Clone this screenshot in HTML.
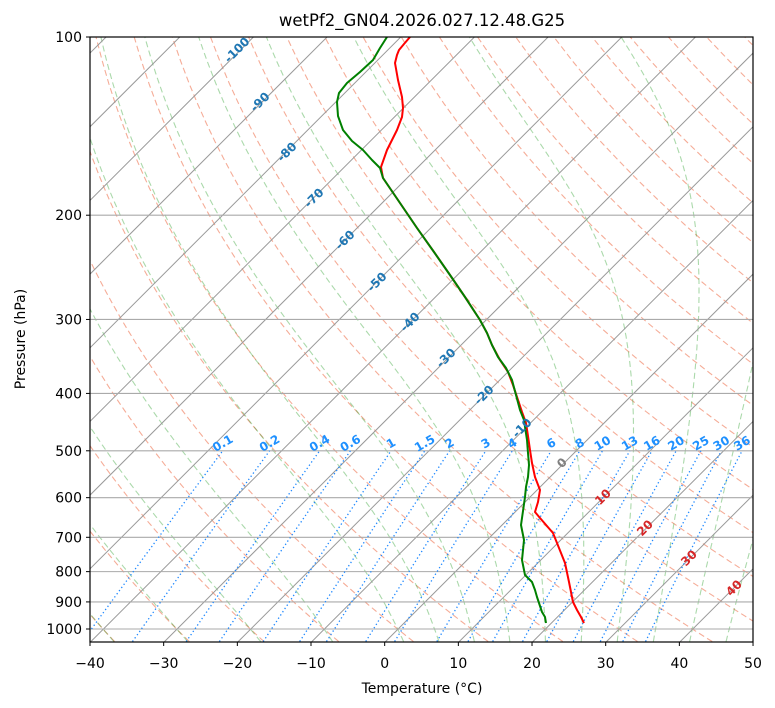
<!DOCTYPE html>
<html><head><meta charset="utf-8"><style>
body{margin:0;background:#fff}
svg{display:block;font-family:"DejaVu Sans","Liberation Sans",sans-serif}
</style></head><body>
<svg id="s" width="775" height="708" viewBox="0 0 775 708" xmlns="http://www.w3.org/2000/svg">
<defs><clipPath id="c"><rect x="90" y="37" width="663" height="605"/></clipPath></defs>
<rect width="775" height="708" fill="#fff"/>
<g id="bg" clip-path="url(#c)"></g>
<g clip-path="url(#c)" fill="none" stroke-width="2" stroke-linejoin="round">
<polyline stroke="#ff0000" points="410,37 404,44 399,50 397,55 395,63 398,80 402,97 403,108 402,117 397,130 387,150 381,167 383,178 400,203 417,228 434,252 450,275 465,297 480,320 487,333 492,345 500,360 508,372 513,385 518,400 522,412 526,423 528,436 530,450 532,463 535,477 540,490 538,502 535,512 540,518 553,533 559,548 565,563 569,582 573,602 577,610 581,617 584,623"/>
<polyline stroke="#008000" points="387,37 380,48 373,60 360,72 347,83 339,93 337,102 338,116 343,130 352,141 363,150 372,160 380,168 383,178 400,203 417,228 434,252 450,275 465,297 480,320 487,333 492,345 498,357 506,368 512,380 516,395 520,410 524,420 525,427 527,440 528,453 529,465 528,477 526,487 525,497 523,511 521,525 524,540 523,550 522,560 525,575 532,582 535,590 537,597 540,606 542,612 545,617 546,623"/>
</g>
<g id="lab"></g>
<rect x="90" y="37" width="663" height="605" fill="none" stroke="#000" stroke-width="1.2"/>
<g id="ax" font-size="14" fill="#000"></g>
<text x="422" y="26" text-anchor="middle" font-size="16.5">wetPf2_GN04.2026.027.12.48.G25</text>
<text x="422" y="693" text-anchor="middle" font-size="14">Temperature (°C)</text>
<text transform="translate(25,339) rotate(-90)" text-anchor="middle" font-size="14">Pressure (hPa)</text>
</svg>
<script>
var NS="http://www.w3.org/2000/svg";
function el(p,n,a,t){var e=document.createElementNS(NS,n);for(var k in a)e.setAttribute(k,a[k]);if(t!=null)e.textContent=t;p.appendChild(e);return e;}
function yp(p){return 37+592*Math.log10(p/100);}
function xp(T,p){return 90+(T+40)*7.367+(642-yp(p));}
var bg=document.getElementById('bg'),ax=document.getElementById('ax'),lab=document.getElementById('lab');
var ps=[];for(var p=1050;p>=100;p-=10)ps.push(p);
function path(pts,attr){var d="";pts.forEach(function(q,i){d+=(i?"L":"M")+q[0].toFixed(1)+","+q[1].toFixed(1);});attr.d=d;attr.fill="none";el(bg,"path",attr);}
for(var th=-40;th<=260;th+=10){var pts=[];ps.forEach(function(p){var T=(th+273.15)*Math.pow(p/1000,0.2857)-273.15;pts.push([xp(T,p),yp(p)]);});path(pts,{stroke:"#f08060","stroke-opacity":"0.65","stroke-width":"1.1","stroke-dasharray":"6,3.5"});}
function es(T){return 6.112*Math.exp(17.67*T/(T+243.5));}
function dTdp(T,p){var Tk=T+273.15,e=es(T),rs=0.622*e/(p-e),Rd=287,Lv=2.501e6,cp=1005;return (Rd*Tk+Lv*rs)/(cp+Lv*Lv*rs*0.622/(Rd*Tk*Tk))/p;}
var m0=[-40,-30,-20,-10,0,5,10,15,20,25,30,35,40,45];
m0.forEach(function(t0){var up=[],T=t0;for(var p=1000;p>=100;p-=5){up.push([xp(T,p),yp(p)]);T-=dTdp(T,p)*5;}
var dn=[];T=t0;for(var p=1000;p<=1050;p+=5){dn.push([xp(T,p),yp(p)]);T+=dTdp(T,p)*5;}
path(dn.reverse().concat(up),{stroke:"#2ca02c","stroke-opacity":"0.4","stroke-width":"1.1","stroke-dasharray":"6,3.5"});});
for(var T=-140;T<=60;T+=10){el(bg,"line",{x1:xp(T,1050),y1:642,x2:xp(T,1050)+700,y2:-58,stroke:"#999","stroke-width":"1"});}
[100,200,300,400,500,600,700,800,900,1000].forEach(function(p){var y=yp(p);el(bg,"line",{x1:90,x2:753,y1:y,y2:y,stroke:"#aaa","stroke-width":"1.1"});
el(ax,"line",{x1:86,x2:90,y1:y,y2:y,stroke:"#000"});el(ax,"text",{x:82,y:y+5,"text-anchor":"end"},p);});
for(var T=-40;T<=50;T+=10){var x=90+(T+40)*7.367;el(ax,"line",{x1:x,x2:x,y1:642,y2:646,stroke:"#000"});el(ax,"text",{x:x,y:668,"text-anchor":"middle"},T<0?"−"+(-T):T);}
var ws=[0.1,0.2,0.4,0.6,1,1.5,2,3,4,6,8,10,13,16,20,25,30,36];
ws.forEach(function(w){var pts=[];for(var p=1050;p>=500;p-=10){var e=w*p/(622+w),l=Math.log(e/6.112),Td=243.5*l/(17.67-l);pts.push([xp(Td,p),yp(p)]);}
path(pts,{stroke:"#1e88ff","stroke-width":"1.3","stroke-dasharray":"1.3,2.6"});
var q=pts[pts.length-1];el(lab,"text",{x:q[0]+2,y:q[1]-4,"text-anchor":"middle","font-size":"12","font-weight":"bold",fill:"#1e90ff",transform:"rotate(-30 "+(q[0]+2)+" "+(q[1]-4)+")"},w);});
var L=[[-100,237,50],[-90,260,102],[-80,287,152],[-70,314,198],[-60,345,240],[-50,377,282],[-40,410,322],[-30,446,358],[-20,484,395],[-10,522,428],[0,562,463],[10,603,497],[20,645,528],[30,689,558],[40,734,588]];
L.forEach(function(a){var c=a[0]<0?"#1f77b4":(a[0]==0?"#808080":"#d62728");el(lab,"text",{x:a[1],y:a[2]+4,"text-anchor":"middle","font-size":"12","font-weight":"bold",fill:c,transform:"rotate(-45 "+a[1]+" "+a[2]+")"},a[0]);});
</script>
</body></html>
